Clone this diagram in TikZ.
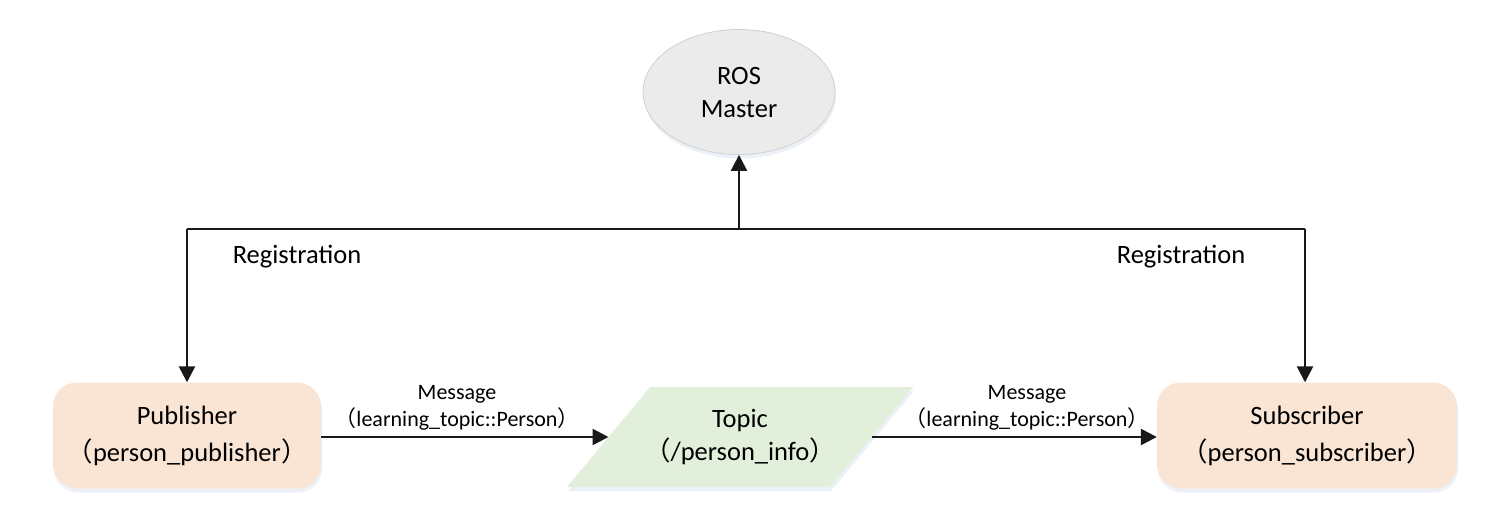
\documentclass[tikz,border=0pt]{standalone}
\usepackage{fontspec}
\setmainfont{Carlito}
\newfontfamily\cjk{Noto Sans CJK SC}
\usetikzlibrary{arrows.meta,shapes.geometric,shadows,calc}
\definecolor{peach}{HTML}{FAE5D5}
\definecolor{mint}{HTML}{E2EFDA}
\definecolor{mastergray}{HTML}{EBEBEB}
\definecolor{shadowblue}{HTML}{C9D6E8}
\newcommand{\lp}{{\cjk （}}
\newcommand{\rp}{{\cjk ）}}
\begin{document}
\begin{tikzpicture}[x=1pt,y=-1pt,
  line/.style={line width=2.5pt,draw=black!90},
  arr/.style={line, -{Triangle[length=16pt,width=16pt]}},
  softshadow/.style={drop shadow={shadow xshift=1pt,shadow yshift=-4pt,opacity=0.35,fill=shadowblue}},
  nodebox/.style={rounded corners=24pt,fill=peach,draw=none,align=center,font=\fontsize{26.5}{37}\selectfont,softshadow},
  master/.style={ellipse,fill=mastergray,draw=black!18,line width=0.8pt,minimum width=192pt,minimum height=125pt,inner sep=0pt,align=center,font=\fontsize{26.5}{33}\selectfont,softshadow},
  topicshape/.style={fill=mint,draw=none,softshadow},
  topictext/.style={align=center,font=\fontsize{26.5}{33}\selectfont},
  lbl/.style={font=\fontsize{26.5}{30}\selectfont},
  msg/.style={font=\fontsize{22}{27}\selectfont,align=center}
]
\useasboundingbox (0,0) rectangle (1506,522);
\node[master] (m) at (739,92) {ROS\\Master};
\node[nodebox,minimum width=268pt,minimum height=106pt] (pub) at (187,435.5) {Publisher\\\lp person\_publisher\rp};
\node[nodebox,minimum width=300pt,minimum height=106pt] (sub) at (1307,435.5) {Subscriber\\\lp person\_subscriber\rp};
% Topic parallelogram
\coordinate (tl) at (650,387);
\coordinate (tr) at (913,387);
\coordinate (br) at (830,487);
\coordinate (bl) at (567,487);
\path[topicshape] (tl) -- (tr) -- (br) -- (bl) -- cycle;
\coordinate (topicleft) at ($(tl)!0.5!(bl)$);
\coordinate (topicright) at ($(tr)!0.5!(br)$);
\node[topictext] (topic) at (740,437) {Topic\\\lp /person\_info\rp};
\coordinate (j) at (739,229);
\coordinate (jl) at (187,229);
\coordinate (jr) at (1305,229);
\draw[arr] (j) -- (m.south);
\draw[line] (jl) -- (jr);
\draw[arr] (jl) -- (pub.north);
\draw[arr] (jr) -- (jr |- sub.north);
\draw[arr] (pub.east |- topicleft) -- (topicleft);
\draw[arr] (topicright) -- (sub.west |- topicright);
\node[lbl] (r1) at (297,257) {Registration};
\node[lbl] (r2) at (1181,257) {Registration};
\node[msg] (m1) at (457,408) {Message\\\lp learning\_topic::Person\rp};
\node[msg] (m2) at (1027,408) {Message\\\lp learning\_topic::Person\rp};
\end{tikzpicture}
\end{document}
